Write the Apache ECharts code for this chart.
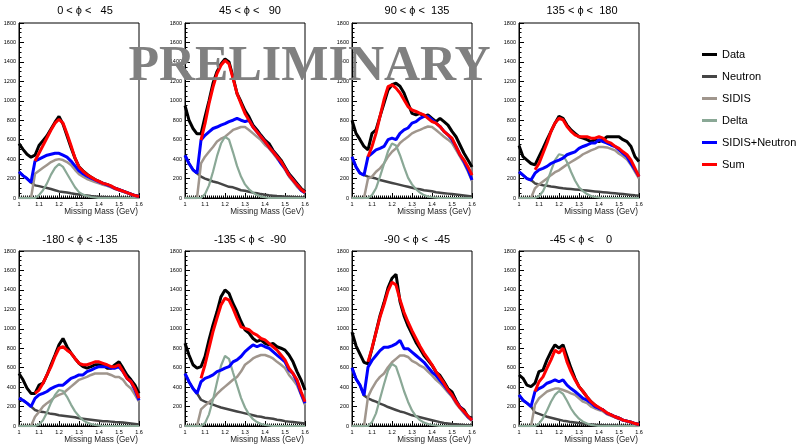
<!DOCTYPE html>
<html><head><meta charset="utf-8">
<script src="https://cdn.jsdelivr.net/npm/echarts/dist/echarts.min.js"></script>
<style>html,body{margin:0;padding:0;background:#fff}#c{width:797px;height:444px}</style>
</head><body><div id="c"></div><script>
// ---- data ----
const mass = [1.00,1.02,1.04,1.06,1.08,1.10,1.12,1.14,1.16,1.18,1.20,1.22,1.24,1.26,1.28,1.30,1.32,1.34,1.36,1.38,1.40,1.42,1.44,1.46,1.48,1.50,1.52,1.54,1.56,1.58,1.60];
const xTickLabels = ['1','1.1','1.2','1.3','1.4','1.5','1.6'];
const yTickLabels = ['0','200','400','600','800','1000','1200','1400','1600','1800'];
const panelTitles = ['0 < \u03D5 <   45','45 < \u03D5 <   90','90 < \u03D5 <  135','135 < \u03D5 <  180',
                     '-180 < \u03D5 < -135','-135 < \u03D5 <  -90','-90 < \u03D5 <  -45','-45 < \u03D5 <    0'];
const seriesNames = ['Data','Neutron','SIDIS','Delta','SIDIS+Neutron','Sum'];

const p1Data    = [560,500,450,420,440,540,590,640,710,780,840,760,640,520,410,320,280,245,215,190,170,150,140,120,100,85,70,55,40,25,15];
const p1Neutron = [270,230,200,160,130,122,112,102,92,80,68,62,56,48,42,36,30,25,20,16,12,10,8,6,5,4,3,3,2,2,1];
const p1Sidis   = [0,0,0,0,250,280,310,340,370,390,400,390,370,340,290,245,220,195,180,165,150,135,125,110,92,78,64,50,36,22,12];
const p1Delta   = [0,0,0,0,0,30,80,150,240,310,350,320,250,180,110,60,35,20,10,5,0,0,0,0,0,0,0,0,0,0,0];
const p1Blue    = [270,230,200,160,380,400,420,440,450,460,460,440,420,380,330,280,250,225,205,185,165,150,135,120,100,85,70,55,40,25,15];
const p1Sum     = [null,null,null,null,380,460,540,620,700,770,810,770,660,540,410,320,275,240,215,190,170,150,140,125,100,85,70,55,40,25,15];

const p2Data    = [950,800,715,660,660,835,1000,1180,1300,1380,1430,1400,1245,1075,990,900,835,750,700,645,595,560,490,440,390,320,250,200,150,100,65];
const p2Neutron = [440,355,290,255,220,200,185,170,160,145,130,115,110,95,80,75,65,55,48,40,34,28,24,20,17,14,12,10,8,6,5];
const p2Sidis   = [0,0,0,0,355,425,475,525,580,610,630,665,700,715,730,730,700,665,630,595,545,510,460,405,355,290,220,170,115,75,50];
const p2Delta   = [0,0,0,0,0,40,130,270,430,560,630,600,470,330,220,140,90,55,30,15,8,0,0,0,0,0,0,0,0,0,0];
const p2Blue    = [440,355,290,255,595,645,680,715,730,750,765,785,800,820,800,785,800,730,680,630,580,525,475,425,355,305,235,185,135,80,55];
const p2Sum     = [null,null,null,null,595,765,970,1140,1280,1365,1415,1380,1230,1075,970,870,800,730,680,630,580,525,475,425,375,305,235,185,135,90,55];

const p3Data    = [800,665,600,530,495,665,700,840,975,1110,1165,1180,1150,1080,975,870,855,870,840,855,820,785,820,785,750,685,630,545,460,390,320];
const p3Neutron = [425,320,255,235,220,210,200,185,175,165,155,145,135,125,115,105,95,90,80,75,70,60,55,50,45,40,35,30,25,20,15];
const p3Sidis   = [0,0,0,0,200,220,270,305,355,425,475,510,565,600,630,665,685,700,720,735,730,700,665,630,600,565,495,425,355,270,175];
const p3Delta   = [0,0,0,0,0,30,100,220,350,480,560,540,440,320,210,140,90,55,30,15,8,4,0,0,0,0,0,0,0,0,0];
const p3Blue    = [425,320,255,235,425,460,495,510,530,600,615,600,665,700,720,770,785,820,840,840,805,770,735,685,650,600,530,445,375,290,185];
const p3Sum     = [null,null,null,null,425,530,665,840,1010,1145,1165,1130,1080,1010,940,905,890,870,855,820,785,770,735,685,650,615,530,445,390,320,235];

const p4Data    = [540,425,390,355,340,425,510,600,685,770,840,820,750,700,665,630,615,600,580,600,580,600,630,630,630,630,600,580,530,425,375];
const p4Neutron = [270,235,200,185,150,140,132,125,118,112,106,100,96,92,88,84,80,76,72,68,64,60,56,52,48,44,40,36,32,28,25];
const p4Sidis   = [0,0,0,0,100,140,170,200,235,265,285,315,345,370,395,420,450,470,490,505,525,525,520,505,490,455,430,395,340,270,200];
const p4Delta   = [0,0,0,0,0,20,70,160,280,390,450,440,370,270,180,110,70,40,20,10,5,0,0,0,0,0,0,0,0,0,0];
const p4Blue    = [270,235,200,185,255,290,305,325,355,375,390,410,445,460,475,510,530,545,565,565,600,580,565,545,530,495,460,425,355,290,220];
const p4Sum     = [null,null,null,null,290,355,460,565,685,770,820,805,735,685,650,630,630,630,615,615,630,615,580,565,530,510,475,445,390,305,220];

const p5Data    = [540,475,390,335,335,420,440,525,630,730,835,900,815,750,695,645,610,595,610,630,630,630,595,595,630,660,595,525,475,420,335];
const p5Neutron = [285,265,235,200,165,150,145,135,125,120,110,105,100,95,90,80,75,70,65,60,55,50,48,45,40,38,35,30,25,20,15];
const p5Sidis   = [0,0,0,0,95,145,200,235,265,300,320,335,370,405,440,475,490,505,525,540,540,540,540,525,505,505,475,420,385,320,250];
const p5Delta   = [0,0,0,0,0,15,60,140,240,320,370,360,300,220,150,100,60,35,20,10,5,0,0,0,0,0,0,0,0,0,0];
const p5Blue    = [285,265,235,200,285,320,335,355,385,405,420,420,455,490,505,525,525,560,575,595,610,610,610,595,595,610,560,490,455,370,265];
const p5Sum     = [null,null,null,null,335,370,440,525,610,715,800,815,780,750,695,645,630,630,645,660,660,645,630,610,610,630,560,490,455,385,285];

const p6Data    = [850,730,630,595,610,715,885,1040,1175,1330,1400,1365,1260,1175,1075,990,955,900,870,885,850,835,850,815,800,780,730,660,560,475,370];
const p6Neutron = [540,455,385,335,270,250,235,220,205,190,180,170,160,150,140,130,120,110,100,95,85,80,75,65,60,50,45,40,35,30,25];
const p6Sidis   = [0,0,0,0,170,210,245,280,330,370,405,440,475,505,560,630,660,695,715,730,730,715,695,660,630,595,525,475,420,320,215];
const p6Delta   = [0,0,0,0,0,30,120,270,450,620,720,690,550,420,290,190,120,70,40,20,10,5,0,0,0,0,0,0,0,0,0];
const p6Blue    = [540,455,385,335,455,490,505,525,560,575,595,610,660,680,715,765,800,835,815,835,815,800,765,730,695,660,575,540,455,335,235];
const p6Sum     = [null,null,null,null,490,630,800,970,1110,1245,1315,1295,1210,1110,1020,1005,990,955,935,900,885,850,815,780,730,680,595,540,475,355,250];

const p7Data    = [965,825,740,655,640,795,965,1135,1270,1420,1520,1560,1280,1135,1030,945,860,795,725,675,625,555,520,455,385,350,265,195,165,95,80];
const p7Neutron = [600,485,420,315,285,265,250,230,215,195,180,165,150,140,125,110,100,90,80,70,60,50,40,30,25,20,17,14,11,9,7];
const p7Sidis   = [0,0,0,0,300,385,455,505,540,605,655,690,725,725,710,670,650,620,600,560,520,475,440,395,345,300,230,180,130,85,50];
const p7Delta   = [0,0,0,0,0,40,130,280,430,570,640,610,490,360,250,160,100,60,35,20,10,5,0,0,0,0,0,0,0,0,0];
const p7Blue    = [600,485,420,315,605,675,725,775,810,810,825,845,880,795,795,760,725,690,655,605,555,520,470,420,365,315,250,195,145,95,60];
const p7Sum     = [null,null,null,null,660,800,960,1120,1250,1390,1480,1450,1300,1170,1070,980,900,820,750,690,630,560,500,440,370,320,250,190,150,100,60];

const p8Data    = [525,490,420,405,440,560,575,680,765,835,800,835,715,595,490,405,355,300,250,215,180,165,130,115,95,80,60,50,40,25,15];
const p8Neutron = [320,265,235,200,140,125,110,95,85,75,65,55,48,40,35,30,25,20,16,12,10,8,6,5,4,3,3,2,2,1,1];
const p8Sidis   = [0,0,0,0,220,285,320,355,370,385,385,370,355,335,320,285,250,235,200,180,165,150,120,105,90,72,58,45,35,20,12];
const p8Delta   = [0,0,0,0,0,25,80,160,250,320,360,330,260,180,120,75,45,25,12,5,0,0,0,0,0,0,0,0,0,0,0];
const p8Blue    = [320,265,235,200,355,385,405,440,455,475,455,475,420,385,355,320,285,265,235,200,180,165,130,115,95,80,60,50,40,25,15];
const p8Sum     = [null,null,null,null,355,455,505,595,680,780,750,800,660,560,475,405,355,300,250,215,190,165,135,115,95,80,60,50,40,25,15];

// ---- assembly ----
const panels = [
  [p1Data,p1Neutron,p1Sidis,p1Delta,p1Blue,p1Sum],
  [p2Data,p2Neutron,p2Sidis,p2Delta,p2Blue,p2Sum],
  [p3Data,p3Neutron,p3Sidis,p3Delta,p3Blue,p3Sum],
  [p4Data,p4Neutron,p4Sidis,p4Delta,p4Blue,p4Sum],
  [p5Data,p5Neutron,p5Sidis,p5Delta,p5Blue,p5Sum],
  [p6Data,p6Neutron,p6Sidis,p6Delta,p6Blue,p6Sum],
  [p7Data,p7Neutron,p7Sidis,p7Delta,p7Blue,p7Sum],
  [p8Data,p8Neutron,p8Sidis,p8Delta,p8Blue,p8Sum]
];
const colors = ['#000000','#454545','#a0968d','#8aa896','#0000ff','#ff0000'];
const widths = [3,2.5,2.5,2.2,3,3];
const gridLefts = [19,185,352,519];
const gridTops = [23,251];
const titleCenters = [85,250,417,582,80,250,417,581];
const titleTops = [5.5,234];
const FONT = 'Liberation Sans';

const grids=[], xAxes=[], yAxes=[], series=[], titles=[];
panels.forEach((arrs,p)=>{
  const row = Math.floor(p/4), col = p%4;
  grids.push({left:gridLefts[col], top:gridTops[row], width:120, height:175, show:true,
    borderColor:'#000', borderWidth:1, backgroundColor:'rgba(0,0,0,0)', containLabel:false, outerBoundsMode:'none'});
  xAxes.push({gridIndex:p, type:'value', min:1, max:1.6, interval:0.1,
    axisLine:{show:true, onZero:false, lineStyle:{color:'#000', width:1}},
    axisTick:{show:true, inside:true, length:5, lineStyle:{color:'#000', width:1}},
    minorTick:{show:true, splitNumber:10, length:2.5, lineStyle:{color:'#000', width:1}},
    splitLine:{show:false}, minorSplitLine:{show:false},
    axisLabel:{fontSize:5.5, color:'#000', margin:3, fontFamily:FONT, showMinLabel:true, showMaxLabel:true, hideOverlap:false,
      formatter:v=>xTickLabels[Math.round((v-1)*10)] || ''},
    name:'Missing Mass (GeV)', nameLocation:'end', nameGap:-1,
    nameTextStyle:{fontSize:8.2, color:'#222', fontFamily:FONT, align:'right', verticalAlign:'top', padding:[10,0,0,0]}
  });
  yAxes.push({gridIndex:p, type:'value', min:0, max:1800, interval:200,
    axisLine:{show:true, onZero:false, lineStyle:{color:'#000', width:1}},
    axisTick:{show:true, inside:true, length:5, lineStyle:{color:'#000', width:1}},
    minorTick:{show:true, splitNumber:4, length:2.5, lineStyle:{color:'#000', width:1}},
    splitLine:{show:false}, minorSplitLine:{show:false},
    axisLabel:{fontSize:5.5, color:'#000', margin:3, fontFamily:FONT, showMinLabel:true, showMaxLabel:true, hideOverlap:false,
      formatter:v=>yTickLabels[Math.round(v/200)] || ''}
  });
  titles.push({text:panelTitles[p], left:titleCenters[p], top:titleTops[row], textAlign:'center', padding:0,
    textStyle:{fontSize:11, fontWeight:'normal', color:'#000', fontFamily:FONT}});
  arrs.forEach((arr,k)=>{
    series.push({type:'line', name:seriesNames[k], xAxisIndex:p, yAxisIndex:p,
      data: mass.map((m,i)=>[m, arr[i]]), showSymbol:false, symbol:'none', connectNulls:false,
      color:colors[k], itemStyle:{color:colors[k]}, lineStyle:{color:colors[k], width:widths[k]},
      animation:false, silent:true, clip:true});
  });
});

const chart = echarts.init(document.getElementById('c'), null, {renderer:'canvas'});
chart.setOption({
  animation:false,
  backgroundColor:'#ffffff',
  title: titles,
  grid: grids, xAxis: xAxes, yAxis: yAxes, series: series,
  legend:{orient:'vertical', left:702, top:48, padding:0, itemWidth:15, itemHeight:3, itemGap:9, icon:'rect',
    selectedMode:false, data:seriesNames,
    textStyle:{fontSize:11, color:'#000', fontFamily:FONT, lineHeight:13, overflow:'none'}},
  graphic:[{type:'text', z:100, silent:true,
    style:{text:'PRELIMINARY', x:309.5, y:67, align:'center', verticalAlign:'middle',
      font:'bold 50px "Liberation Serif"', fill:'#808080'}}]
});
</script></body></html>
